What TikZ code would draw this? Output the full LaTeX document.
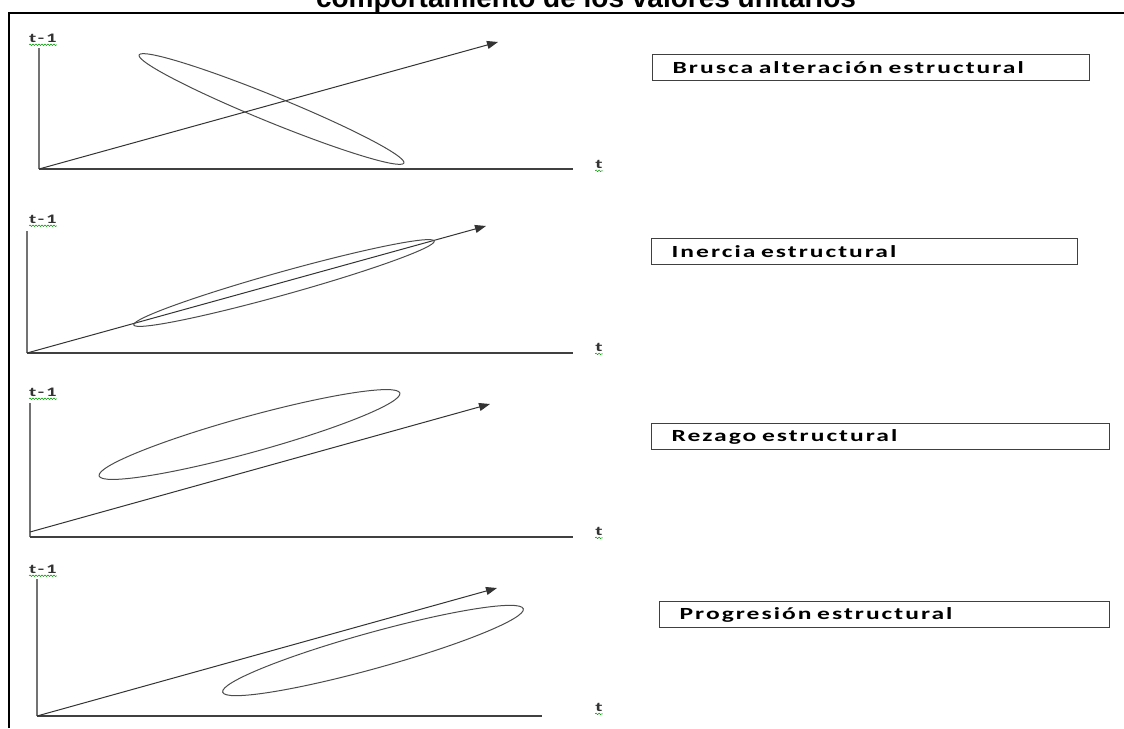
\documentclass[tikz,border=0pt]{standalone}
\usepackage{fontspec}
\setmainfont{Liberation Sans}
\newfontfamily\boxfont{Carlito}[FakeStretch=1.5,LetterSpace=12]
\newfontfamily\axfont{Carlito}[FakeStretch=1.6,LetterSpace=15]
\usetikzlibrary{arrows.meta,decorations.pathmorphing}
\tikzset{
  xline/.style={line width=1.2pt, black!75},
  yline/.style={line width=2pt, black!55},
  trend/.style={line width=1pt, black!80, -{Triangle[length=11pt,width=8pt]}},
  band/.style={line width=1pt, black!70},
  axlabel/.style={font=\axfont\bfseries\fontsize{13}{13}\selectfont, text=black!80, inner sep=0pt, anchor=base},
  wavy/.style={green!60!black, line width=0.5pt, decorate, decoration={snake, amplitude=0.8pt, segment length=3pt}},
  stage/.style={draw=black!75, line width=1.3pt, minimum height=26pt, anchor=north west, inner xsep=20pt, align=left, font=\boxfont\bfseries\fontsize{17}{17}\selectfont}
}
\begin{document}
\begin{tikzpicture}[x=1pt, y=-1pt]
    \useasboundingbox (0,0) rectangle (1124,728);
    \node[font=\bfseries\fontsize{28}{28}\selectfont, anchor=base] (title) at (586,8) {comportamiento de los valores unitarios};
    \draw[line width=2.5pt] (9,728)--(9,13)--(1124,13);

    \coordinate (o1) at (39,169);
    \coordinate (y1) at (39,48);
    \coordinate (x1) at (573,169);
    \coordinate (a1) at (498,42);
    \draw[yline] (y1)--(o1);
    \draw[xline] (o1)--(x1);
    \draw[trend] (o1)--(a1);
    \draw[band] (271.5,109) ellipse [x radius=143, y radius=13, rotate=-22.2];
    \node[axlabel] (l1) at (43,42) {t-1};
    \node[axlabel] (t1) at (599,168) {t};
    \node[stage, minimum width=437pt, text width=397pt] (b1) at (652,54) {Brusca alteración estructural};

    \coordinate (o2) at (27,353);
    \coordinate (y2) at (27,231);
    \coordinate (x2) at (573,353);
    \coordinate (a2) at (486,226);
    \draw[yline] (y2)--(o2);
    \draw[xline] (o2)--(x2);
    \draw[trend] (o2)--(a2);
    \draw[band] (284,283) ellipse [x radius=156, y radius=11.5, rotate=15.6];
    \node[axlabel] (l2) at (43,223) {t-1};
    \node[axlabel] (t2) at (599,351) {t};
    \node[stage, minimum width=426pt, text width=386pt] (b2) at (651,238) {Inercia estructural};

    \coordinate (o3) at (30,537);
    \coordinate (s3) at (30,532);
    \coordinate (y3) at (30,403);
    \coordinate (x3) at (573,537);
    \coordinate (a3) at (490,404);
    \draw[yline] (y3)--(o3);
    \draw[xline] (o3)--(x3);
    \draw[trend] (s3)--(a3);
    \draw[band] (249.5,434.5) ellipse [x radius=156, y radius=18, rotate=15.4];
    \node[axlabel] (l3) at (43,396) {t-1};
    \node[axlabel] (t3) at (599,535) {t};
    \node[stage, minimum width=458pt, text width=418pt] (b3) at (651,423) {Rezago estructural};

    \coordinate (o4) at (37,716);
    \coordinate (y4) at (37,579);
    \coordinate (x4) at (542,716);
    \coordinate (a4) at (497,588);
    \draw[yline] (y4)--(o4);
    \draw[xline] (o4)--(x4);
    \draw[trend] (o4)--(a4);
    \draw[band] (373,650.5) ellipse [x radius=156, y radius=18, rotate=15.5];
    \node[axlabel] (l4) at (43,573) {t-1};
    \node[axlabel] (t4) at (599,711) {t};
    \node[stage, minimum width=450pt, text width=410pt] (b4) at (659,601) {Progresión estructural};

    \draw[wavy] ([yshift=-2.5pt]l1.south west)--([yshift=-2.5pt]l1.south east);
    \draw[wavy] ([yshift=-2.5pt]l2.south west)--([yshift=-2.5pt]l2.south east);
    \draw[wavy] ([yshift=-2.5pt]l3.south west)--([yshift=-2.5pt]l3.south east);
    \draw[wavy] ([yshift=-2.5pt]l4.south west)--([yshift=-2.5pt]l4.south east);
    \draw[wavy] ([yshift=-2.5pt]t1.south west)--([yshift=-2.5pt]t1.south east);
    \draw[wavy] ([yshift=-2.5pt]t2.south west)--([yshift=-2.5pt]t2.south east);
    \draw[wavy] ([yshift=-2.5pt]t3.south west)--([yshift=-2.5pt]t3.south east);
    \draw[wavy] ([yshift=-2.5pt]t4.south west)--([yshift=-2.5pt]t4.south east);
\end{tikzpicture}
\end{document}
